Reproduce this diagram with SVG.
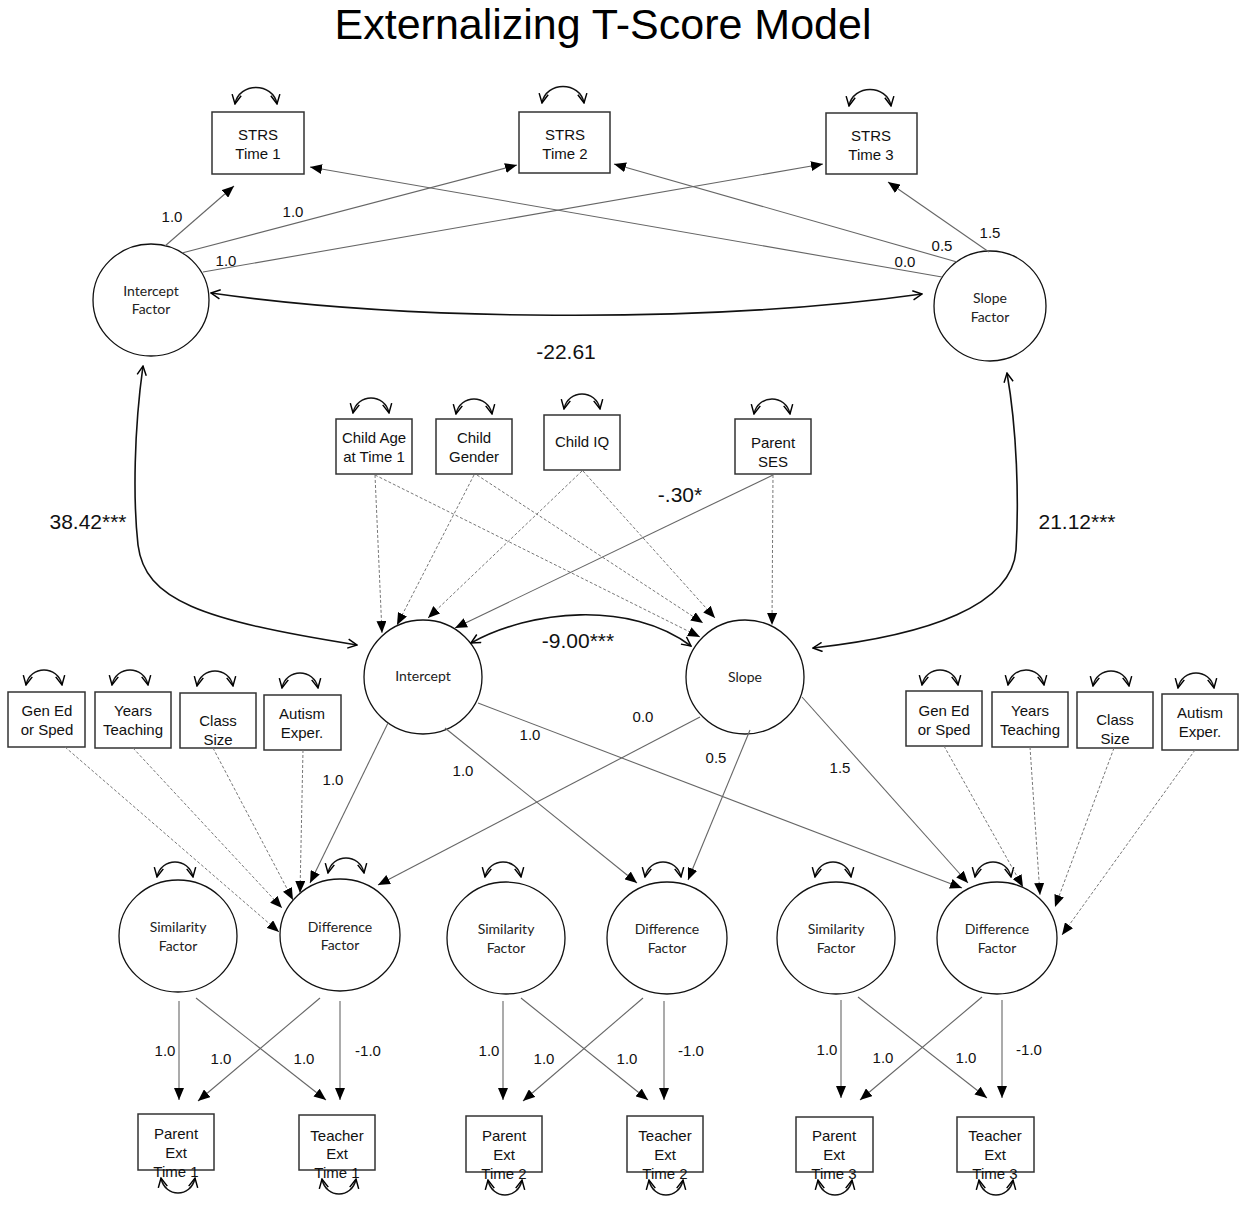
<svg xmlns="http://www.w3.org/2000/svg" width="1249" height="1205" viewBox="0 0 1249 1205">
<defs>
<marker id="tri" viewBox="0 0 12 10" refX="12" refY="5" markerWidth="12" markerHeight="10" markerUnits="userSpaceOnUse" orient="auto"><path d="M0,0 L12,5 L0,10 z" fill="#000"/></marker>
<marker id="chev" viewBox="0 0 12 12" refX="11" refY="6" markerWidth="11" markerHeight="11" markerUnits="userSpaceOnUse" orient="auto-start-reverse"><path d="M1,1 L11,6 L1,11" fill="none" stroke="#000" stroke-width="1.6"/></marker>
</defs>
<style>
.box{fill:#fff;stroke:#333;stroke-width:1.5}
.circ{fill:#fff;stroke:#111;stroke-width:1.3}
.bt{font-family:"Liberation Sans",Arial,sans-serif;font-size:15px;fill:#111;text-anchor:middle}
.ct{font-family:Lato,"Open Sans",sans-serif;font-size:14px;fill:#222;text-anchor:middle}
.lbl{font-family:"Liberation Sans",Arial,sans-serif;font-size:15px;fill:#111;text-anchor:middle}
.big{font-family:"Liberation Sans",Arial,sans-serif;font-size:21px;fill:#111;text-anchor:middle}
.title{font-family:"Liberation Sans",Arial,sans-serif;font-size:43px;fill:#000;text-anchor:middle}
.p{fill:none;stroke:#666;stroke-width:1.1;marker-end:url(#tri)}
.d{fill:none;stroke:#777;stroke-width:1;stroke-dasharray:3,2;marker-end:url(#tri)}
.cov{fill:none;stroke:#111;stroke-width:1.6;marker-start:url(#chev);marker-end:url(#chev)}
.lp{fill:none;stroke:#111;stroke-width:1.5;marker-start:url(#chev);marker-end:url(#chev)}
</style>
<rect width="1249" height="1205" fill="#fff"/>
<text class="title" x="603" y="39">Externalizing T-Score Model</text>

<g id="strs1"><rect class="box" x="212" y="112" width="92" height="62"/><text class="bt" x="258" y="140">STRS</text><text class="bt" x="258" y="159">Time 1</text></g>
<g id="strs2"><rect class="box" x="519" y="112" width="91" height="61"/><text class="bt" x="565" y="140">STRS</text><text class="bt" x="565" y="159">Time 2</text></g>
<g id="strs3"><rect class="box" x="826" y="113" width="91" height="61"/><text class="bt" x="871" y="141">STRS</text><text class="bt" x="871" y="160">Time 3</text></g>

<g id="interceptFactor"><ellipse class="circ" cx="151" cy="300" rx="58" ry="56"/><text class="ct" x="151" y="296">Intercept</text><text class="ct" x="151" y="314">Factor</text></g>
<g id="slopeFactor"><ellipse class="circ" cx="990" cy="306" rx="56" ry="55"/><text class="ct" x="990" y="303">Slope</text><text class="ct" x="990" y="322">Factor</text></g>

<g id="childAge"><rect class="box" x="336" y="419" width="76" height="55"/><text class="bt" x="374" y="443">Child Age</text><text class="bt" x="374" y="462">at Time 1</text></g>
<g id="childGender"><rect class="box" x="436" y="419" width="76" height="55"/><text class="bt" x="474" y="443">Child</text><text class="bt" x="474" y="462">Gender</text></g>
<g id="childIQ"><rect class="box" x="544" y="415" width="76" height="55"/><text class="bt" x="582" y="447">Child IQ</text></g>
<g id="parentSES"><rect class="box" x="735" y="419" width="76" height="55"/><text class="bt" x="773" y="448">Parent</text><text class="bt" x="773" y="467">SES</text></g>

<g id="intercept"><ellipse class="circ" cx="423" cy="677" rx="59" ry="57"/><text class="ct" x="423" y="681">Intercept</text></g>
<g id="slope"><ellipse class="circ" cx="745" cy="677" rx="59" ry="57"/><text class="ct" x="745" y="682">Slope</text></g>

<g id="genEdL"><rect class="box" x="8" y="692" width="77" height="55"/><text class="bt" x="47" y="716">Gen Ed</text><text class="bt" x="47" y="735">or Sped</text></g>
<g id="yearsL"><rect class="box" x="95" y="692" width="76" height="56"/><text class="bt" x="133" y="716">Years</text><text class="bt" x="133" y="735">Teaching</text></g>
<g id="classL"><rect class="box" x="180" y="693" width="76" height="55"/><text class="bt" x="218" y="726">Class</text><text class="bt" x="218" y="745">Size</text></g>
<g id="autismL"><rect class="box" x="264" y="695" width="77" height="55"/><text class="bt" x="302" y="719">Autism</text><text class="bt" x="302" y="738">Exper.</text></g>

<g id="genEdR"><rect class="box" x="906" y="691" width="76" height="55"/><text class="bt" x="944" y="716">Gen Ed</text><text class="bt" x="944" y="735">or Sped</text></g>
<g id="yearsR"><rect class="box" x="992" y="692" width="76" height="55"/><text class="bt" x="1030" y="716">Years</text><text class="bt" x="1030" y="735">Teaching</text></g>
<g id="classR"><rect class="box" x="1077" y="692" width="76" height="56"/><text class="bt" x="1115" y="725">Class</text><text class="bt" x="1115" y="744">Size</text></g>
<g id="autismR"><rect class="box" x="1162" y="694" width="76" height="56"/><text class="bt" x="1200" y="718">Autism</text><text class="bt" x="1200" y="737">Exper.</text></g>

<g id="simL"><ellipse class="circ" cx="178" cy="936" rx="59" ry="56"/><text class="ct" x="178" y="932">Similarity</text><text class="ct" x="178" y="951">Factor</text></g>
<g id="diffL"><ellipse class="circ" cx="340" cy="935" rx="60" ry="56"/><text class="ct" x="340" y="932">Difference</text><text class="ct" x="340" y="950">Factor</text></g>
<g id="simM"><ellipse class="circ" cx="506" cy="938" rx="59" ry="56"/><text class="ct" x="506" y="934">Similarity</text><text class="ct" x="506" y="953">Factor</text></g>
<g id="diffM"><ellipse class="circ" cx="667" cy="938" rx="60" ry="56"/><text class="ct" x="667" y="934">Difference</text><text class="ct" x="667" y="953">Factor</text></g>
<g id="simR"><ellipse class="circ" cx="836" cy="938" rx="59" ry="56"/><text class="ct" x="836" y="934">Similarity</text><text class="ct" x="836" y="953">Factor</text></g>
<g id="diffR"><ellipse class="circ" cx="997" cy="938" rx="60" ry="56"/><text class="ct" x="997" y="934">Difference</text><text class="ct" x="997" y="953">Factor</text></g>

<g id="parentT1"><rect class="box" x="138" y="1114" width="76" height="56"/><text class="bt" x="176" y="1139">Parent</text><text class="bt" x="176" y="1158">Ext</text><text class="bt" x="176" y="1177">Time 1</text></g>
<g id="teacherT1"><rect class="box" x="299" y="1115" width="76" height="55"/><text class="bt" x="337" y="1141">Teacher</text><text class="bt" x="337" y="1159">Ext</text><text class="bt" x="337" y="1178">Time 1</text></g>
<g id="parentT2"><rect class="box" x="466" y="1116" width="76" height="56"/><text class="bt" x="504" y="1141">Parent</text><text class="bt" x="504" y="1160">Ext</text><text class="bt" x="504" y="1179">Time 2</text></g>
<g id="teacherT2"><rect class="box" x="627" y="1116" width="76" height="56"/><text class="bt" x="665" y="1141">Teacher</text><text class="bt" x="665" y="1160">Ext</text><text class="bt" x="665" y="1179">Time 2</text></g>
<g id="parentT3"><rect class="box" x="796" y="1117" width="77" height="55"/><text class="bt" x="834" y="1141">Parent</text><text class="bt" x="834" y="1160">Ext</text><text class="bt" x="834" y="1179">Time 3</text></g>
<g id="teacherT3"><rect class="box" x="957" y="1117" width="77" height="55"/><text class="bt" x="995" y="1141">Teacher</text><text class="bt" x="995" y="1160">Ext</text><text class="bt" x="995" y="1179">Time 3</text></g>

<g id="connectors">
<!-- variance self-loops -->
<path class="lp" d="M235,104 C239,82 273,82 277,104"/>
<path class="lp" d="M542,103 C546,81 580,81 584,103"/>
<path class="lp" d="M849,106 C853,84 887,84 891,106"/>
<path class="lp" d="M353,413 C357,393 385,393 389,413"/>
<path class="lp" d="M456,414 C460,394 488,394 492,414"/>
<path class="lp" d="M564,409 C568,389 596,389 600,409"/>
<path class="lp" d="M754,414 C758,394 786,394 790,414"/>
<path class="lp" d="M26,685 C30,665 58,665 62,685"/>
<path class="lp" d="M112,685 C116,665 144,665 148,685"/>
<path class="lp" d="M197,686 C201,666 229,666 233,686"/>
<path class="lp" d="M282,688 C286,668 314,668 318,688"/>
<path class="lp" d="M922,685 C926,665 954,665 958,685"/>
<path class="lp" d="M1008,685 C1012,665 1040,665 1044,685"/>
<path class="lp" d="M1093,686 C1097,666 1125,666 1129,686"/>
<path class="lp" d="M1178,688 C1182,668 1210,668 1214,688"/>
<path class="lp" d="M157,877 C161,857 189,857 193,877"/>
<path class="lp" d="M328,873 C332,853 360,853 364,873"/>
<path class="lp" d="M485,877 C489,857 517,857 521,877"/>
<path class="lp" d="M645,877 C649,857 677,857 681,877"/>
<path class="lp" d="M815,877 C819,857 847,857 851,877"/>
<path class="lp" d="M975,877 C979,857 1007,857 1011,877"/>
<path class="lp" d="M161,1178 C165,1198 191,1198 195,1178"/>
<path class="lp" d="M322,1179 C326,1199 352,1199 356,1179"/>
<path class="lp" d="M488,1180 C492,1200 518,1200 522,1180"/>
<path class="lp" d="M649,1180 C653,1200 679,1200 683,1180"/>
<path class="lp" d="M818,1180 C822,1200 848,1200 852,1180"/>
<path class="lp" d="M979,1180 C983,1200 1009,1200 1013,1180"/>

<!-- covariances -->
<path class="cov" d="M211,293 C400,320 700,325 922,294"/>
<path class="cov" d="M143,366 C134,430 133,500 138,545 C145,600 200,620 357,645"/>
<path class="cov" d="M1007,373 C1017,430 1019,500 1016,550 C1012,605 930,635 813,648"/>
<path class="cov" d="M471,643 C530,610 630,600 691,646"/>

<!-- growth loadings to STRS -->
<path class="p" d="M165,246 L234,186"/>
<path class="p" d="M182,253 L517,165"/>
<path class="p" d="M203,272 L823,164"/>
<path class="p" d="M942,277 L310,167"/>
<path class="p" d="M957,262 L614,164"/>
<path class="p" d="M989,252 L888,182"/>

<!-- covariates to intercept/slope -->
<path class="d" d="M375,475 L382,633"/>
<path class="d" d="M375,475 L700,637"/>
<path class="d" d="M474,475 L397,625"/>
<path class="d" d="M477,475 L703,623"/>
<path class="d" d="M582,471 L428,618"/>
<path class="d" d="M583,471 L715,618"/>
<path class="p" d="M773,475 L455,628"/>
<path class="d" d="M773,475 L772,625"/>

<!-- intercept/slope to difference factors -->
<path class="p" d="M388,723 L310,883"/>
<path class="p" d="M700,717 L378,885"/>
<path class="p" d="M445,728 L637,883"/>
<path class="p" d="M478,703 L962,888"/>
<path class="p" d="M750,730 L688,880"/>
<path class="p" d="M802,697 L968,883"/>

<!-- teacher covariates -->
<path class="d" d="M65,747 L279,932"/>
<path class="d" d="M133,748 L282,908"/>
<path class="d" d="M213,748 L293,900"/>
<path class="d" d="M303,750 L300,893"/>
<path class="d" d="M944,746 L1023,887"/>
<path class="d" d="M1030,747 L1040,895"/>
<path class="d" d="M1114,748 L1055,907"/>
<path class="d" d="M1195,750 L1062,935"/>

<!-- factors to observed -->
<path class="p" d="M179,1001 L179,1100"/>
<path class="p" d="M196,998 L326,1100"/>
<path class="p" d="M320,998 L198,1101"/>
<path class="p" d="M340,1001 L340,1100"/>
<path class="p" d="M503,1001 L503,1100"/>
<path class="p" d="M521,998 L648,1100"/>
<path class="p" d="M643,998 L523,1101"/>
<path class="p" d="M664,1001 L664,1100"/>
<path class="p" d="M841,1000 L841,1098"/>
<path class="p" d="M858,997 L987,1098"/>
<path class="p" d="M982,997 L860,1100"/>
<path class="p" d="M1002,1000 L1002,1098"/>
</g>

<g id="labels">
<text class="lbl" x="172" y="222">1.0</text>
<text class="lbl" x="293" y="217">1.0</text>
<text class="lbl" x="226" y="266">1.0</text>
<text class="lbl" x="942" y="251">0.5</text>
<text class="lbl" x="905" y="267">0.0</text>
<text class="lbl" x="990" y="238">1.5</text>
<text class="big" x="566" y="359">-22.61</text>
<text class="big" x="88" y="529">38.42***</text>
<text class="big" x="1077" y="529">21.12***</text>
<text class="big" x="680" y="502">-.30*</text>
<text class="big" x="578" y="648">-9.00***</text>
<text class="lbl" x="333" y="785">1.0</text>
<text class="lbl" x="643" y="722">0.0</text>
<text class="lbl" x="463" y="776">1.0</text>
<text class="lbl" x="530" y="740">1.0</text>
<text class="lbl" x="716" y="763">0.5</text>
<text class="lbl" x="840" y="773">1.5</text>
<text class="lbl" x="165" y="1056">1.0</text>
<text class="lbl" x="221" y="1064">1.0</text>
<text class="lbl" x="304" y="1064">1.0</text>
<text class="lbl" x="368" y="1056">-1.0</text>
<text class="lbl" x="489" y="1056">1.0</text>
<text class="lbl" x="544" y="1064">1.0</text>
<text class="lbl" x="627" y="1064">1.0</text>
<text class="lbl" x="691" y="1056">-1.0</text>
<text class="lbl" x="827" y="1055">1.0</text>
<text class="lbl" x="883" y="1063">1.0</text>
<text class="lbl" x="966" y="1063">1.0</text>
<text class="lbl" x="1029" y="1055">-1.0</text>
</g>
</svg>
